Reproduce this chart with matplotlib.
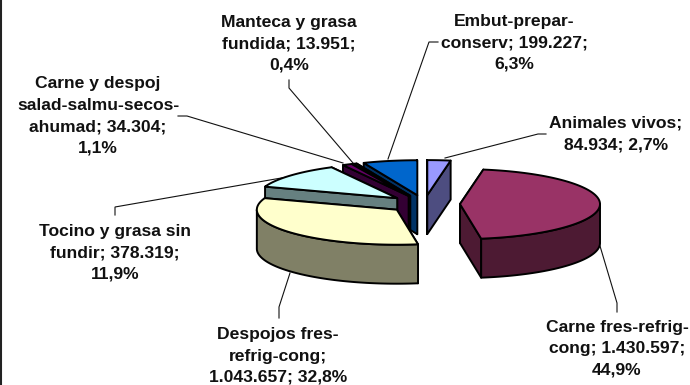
import numpy as np
import matplotlib
matplotlib.use("Agg")
import matplotlib.pyplot as plt
from matplotlib.patches import Polygon

# datos
categorias = ["Animales vivos", "Carne fres-refrig-cong", "Despojos fres-refrig-cong",
              "Tocino y grasa sin fundir", "Carne y despoj salad-salmu-secos-ahumad",
              "Manteca y grasa fundida", "Embut-prepar-conserv"]
valores = [84934, 1430597, 1043657, 378319, 34304, 13951, 199227]
etiquetas = ["Animales vivos;\n84.934; 2,7%",
             "Carne fres-refrig-\ncong; 1.430.597;\n44,9%",
             "Despojos fres-\nrefrig-cong;\n1.043.657; 32,8%",
             "Tocino y grasa sin\nfundir; 378.319;\n11,9%",
             "Carne y despoj\nsalad-salmu-secos-\nahumad; 34.304;\n1,1%",
             "Manteca y grasa\nfundida; 13.951;\n0,4%",
             "Embut-prepar-\nconserv; 199.227;\n6,3%"]

colores = ["#9999FF", "#993366", "#FFFFCC", "#CCFFFF", "#660066", "#FF8080", "#0066CC"]
paredes = ["#4D4D80", "#4D1A33", "#808066", "#668080", "#330033", "#804040", "#003366"]

# layout en pixeles
pos_texto = [(616, 134), (617, 349), (278, 356), (115, 253), (98, 116), (289, 44), (514, 43)]
guias = [[(546, 134), (538, 134), (445, 158)],
         [(617, 312), (617, 303), (600, 246)],
         [(279, 318), (279, 307), (290, 273)],
         [(115, 215), (115, 207), (287, 177)],
         [(178, 116), (187, 116), (343, 163)],
         [(289, 80), (289, 88), (353, 163)],
         [(438, 42), (429, 42), (388, 159)]]

cx, cy = 424.3, 204
rx, ry = 140, 35
expl = 35.7
alto = 39
lw = 1.4

plt.rcParams['font.family'] = ['Liberation Sans', 'DejaVu Sans']

fig = plt.figure(figsize=(6.9, 3.85), dpi=100)
ax = fig.add_axes([0, 0, 1, 1])
ax.set_xlim(0, 690)
ax.set_ylim(385, 0)
ax.axis("off")


def punto(ang, r=1.0):
    # angulo en grados, horario desde arriba
    a = np.radians(ang)
    return np.sin(a) * rx * r, -np.cos(a) * ry * r


def cara(pts, color, z):
    ax.add_patch(Polygon(pts, closed=True, facecolor=color, edgecolor="black",
                         linewidth=lw, joinstyle="round", zorder=z))


total = sum(valores)
fracs = [v / total * 360 for v in valores]
inicios = np.cumsum([0] + fracs[:-1])

# de atras hacia adelante
medios = [inicios[i] + fracs[i] / 2 for i in range(len(valores))]
orden = sorted(range(len(valores)), key=lambda i: -np.cos(np.radians(medios[i])))

for n, i in enumerate(orden):
    a0 = inicios[i]
    a1 = a0 + fracs[i]
    m = np.radians(medios[i])
    ox = cx + np.sin(m) * expl
    oy = cy - np.cos(m) * expl * ry / rx
    z = 2 + n

    # paredes radiales
    bordes = sorted([a0, a1], key=lambda a: punto(a)[1])
    for a in bordes:
        dx, dy = punto(a)
        cara([(ox, oy), (ox + dx, oy + dy), (ox + dx, oy + dy + alto), (ox, oy + alto)], paredes[i], z)

    # pared exterior, solo lo que mira al frente
    f0, f1 = max(a0, 90), min(a1, 270)
    if f1 > f0:
        t = np.linspace(f0, f1, 80)
        arco = [(ox + punto(a)[0], oy + punto(a)[1]) for a in t]
        cara(arco + [(x, y + alto) for x, y in arco[::-1]], paredes[i], z)

    # tapa
    t = np.linspace(a0, a1, 120)
    cara([(ox, oy)] + [(ox + punto(a)[0], oy + punto(a)[1]) for a in t], colores[i], z)

for g in guias:
    xs, ys = zip(*g)
    ax.plot(xs, ys, color="#111111", linewidth=0.8, zorder=1, solid_joinstyle="miter")

for txt, (x, y) in zip(etiquetas, pos_texto):
    ax.text(x, y, txt, ha="center", va="center", fontsize=12.6, fontweight="bold",
            linespacing=1.53, color="#111111", zorder=20)

# borde izquierdo
ax.plot([1, 1], [0, 385], color="#222222", linewidth=1.5, zorder=1)

fig.savefig("out.png", dpi=100)
